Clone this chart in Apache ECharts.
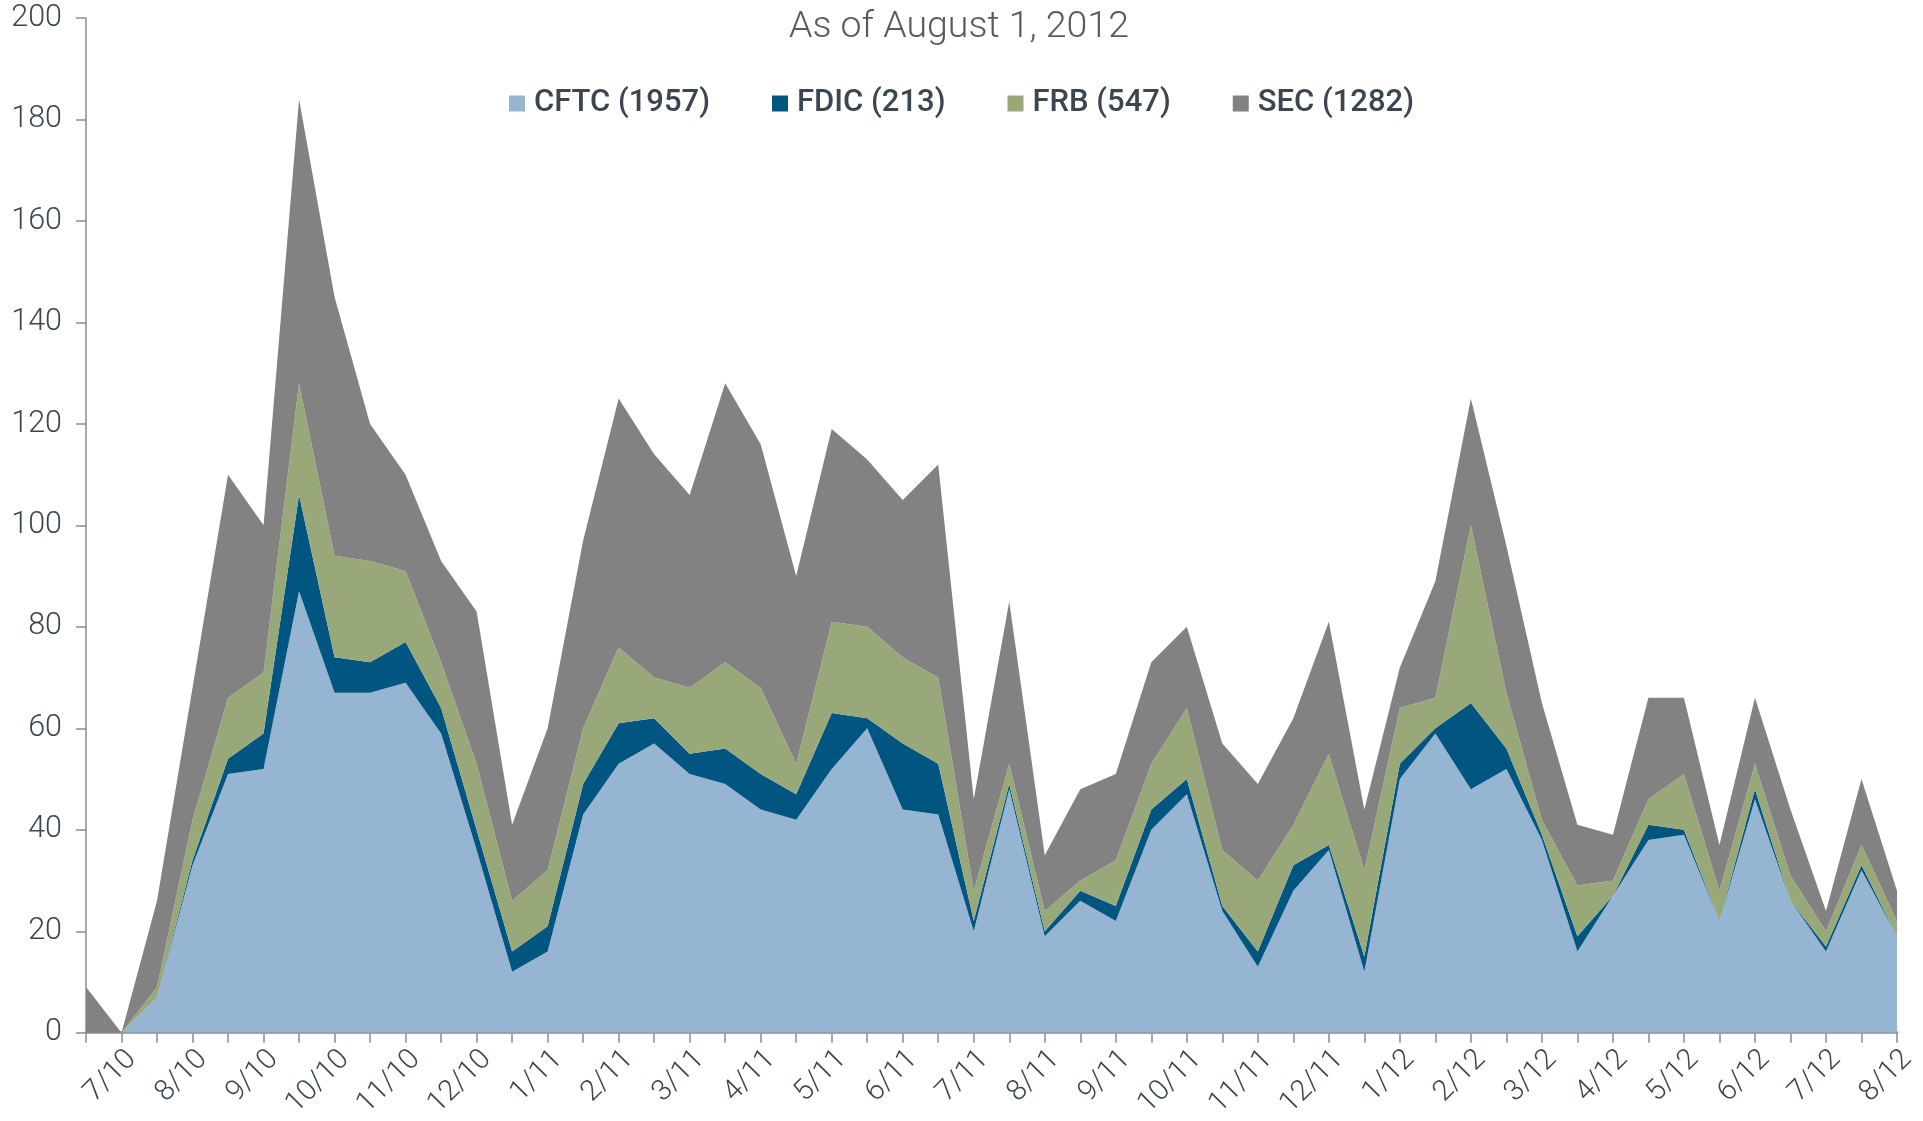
<!DOCTYPE html>
<html>
<head>
<meta charset="utf-8">
<script src="https://cdn.jsdelivr.net/npm/echarts@6/dist/echarts.min.js"></script>
<style>
  html, body { margin: 0; padding: 0; background: #fff; }
  #chart { width: 1923px; height: 1121px; }
</style>
</head>
<body>
<div id="chart"></div>
<script>
// month labels, shown on every second (half-month) point
var months = ['7/10', '8/10', '9/10', '10/10', '11/10', '12/10',
  '1/11', '2/11', '3/11', '4/11', '5/11', '6/11', '7/11', '8/11', '9/11', '10/11', '11/11', '12/11',
  '1/12', '2/12', '3/12', '4/12', '5/12', '6/12', '7/12', '8/12']

var seriesNames = ['CFTC (1957)', 'FDIC (213)', 'FRB (547)', 'SEC (1282)']
var seriesColors = ['#95b5d2', '#005581', '#98a878', '#828282']

var cftc = [0, 0, 7, 33, 51, 52, 87, 67, 67, 69, 59, 36, 12, 16, 43, 53, 57, 51, 49, 44,
  42, 52, 60, 44, 43, 20, 48, 19, 26, 22, 40, 47, 24, 13, 28, 36, 12, 50, 59, 48,
  52, 38, 16, 27, 38, 39, 22, 46, 26, 16, 32, 19]
var fdic = [0, 0, 0, 1, 3, 7, 19, 7, 6, 8, 5, 4, 4, 5, 6, 8, 5, 4, 7, 7,
  5, 11, 2, 13, 10, 2, 1, 1, 2, 3, 4, 3, 1, 3, 5, 1, 3, 3, 1, 17,
  4, 1, 3, 0, 3, 1, 0, 2, 0, 1, 1, 0]
var frb = [0, 0, 2, 8, 12, 12, 22, 20, 20, 14, 9, 13, 10, 11, 11, 15, 8, 13, 17, 17,
  6, 18, 18, 17, 17, 6, 4, 4, 2, 9, 9, 14, 11, 14, 8, 18, 17, 11, 6, 35,
  11, 3, 10, 3, 5, 11, 6, 5, 5, 3, 4, 3]
var sec = [9, 0, 17, 26, 44, 29, 56, 51, 27, 19, 20, 30, 15, 28, 37, 49, 44, 38, 55, 48,
  37, 38, 33, 31, 42, 18, 32, 11, 18, 17, 20, 16, 21, 19, 21, 26, 12, 8, 23, 25,
  29, 23, 12, 9, 20, 15, 9, 13, 13, 4, 13, 6]

var categories = []
for (var i = 0; i < cftc.length; i++) {
  categories.push(i % 2 === 1 ? months[(i - 1) / 2] : '')
}

var chart = echarts.init(document.getElementById('chart'))
var labelFont = "'Roboto', 'Liberation Sans', sans-serif"
var axisGray = '#8c8c8c'

var values = [cftc, fdic, frb, sec]
var series = []
for (var s = 0; s < values.length; s++) {
  series.push({
    name: seriesNames[s],
    type: 'line',
    stack: 'total',
    data: values[s],
    symbol: 'none',
    color: seriesColors[s],
    lineStyle: { width: 0 },
    areaStyle: { color: seriesColors[s], opacity: 1 }
  })
}

chart.setOption({
  backgroundColor: '#ffffff',
  animation: false,
  title: {
    text: 'As of August 1, 2012',
    left: 784,
    top: 4,
    textStyle: {
      fontFamily: labelFont,
      fontWeight: 300,
      fontSize: 37.5,
      color: '#5a5a5a'
    }
  },
  legend: {
    top: 83,
    left: 'center',
    icon: 'rect',
    itemWidth: 16,
    itemHeight: 16,
    itemGap: 62,
    textStyle: {
      fontFamily: labelFont,
      fontWeight: 500,
      fontSize: 31,
      color: '#3c4650',
      padding: [0, 0, 0, 4]
    },
    data: seriesNames
  },
  grid: {
    left: 86,
    right: 26,
    top: 18,
    bottom: 87
  },
  xAxis: {
    type: 'category',
    boundaryGap: false,
    data: categories,
    axisLine: { lineStyle: { color: axisGray, width: 2.5 } },
    axisTick: { interval: 0, length: 10, lineStyle: { color: axisGray, width: 1.5 } },
    axisLabel: {
      interval: 0,
      rotate: 45,
      margin: 12,
      verticalAlign: 'top',
      fontFamily: labelFont,
      fontWeight: 300,
      fontSize: 29,
      color: '#3c4650'
    }
  },
  yAxis: {
    type: 'value',
    min: 0,
    max: 200,
    interval: 20,
    axisLine: { show: true, lineStyle: { color: axisGray, width: 1.5 } },
    axisTick: { show: true, length: 10, lineStyle: { color: axisGray, width: 1.5 } },
    splitLine: { show: false },
    axisLabel: {
      margin: 24,
      fontFamily: labelFont,
      fontWeight: 300,
      fontSize: 30.5,
      color: '#3c4650'
    }
  },
  series: series
})
</script>
</body>
</html>
